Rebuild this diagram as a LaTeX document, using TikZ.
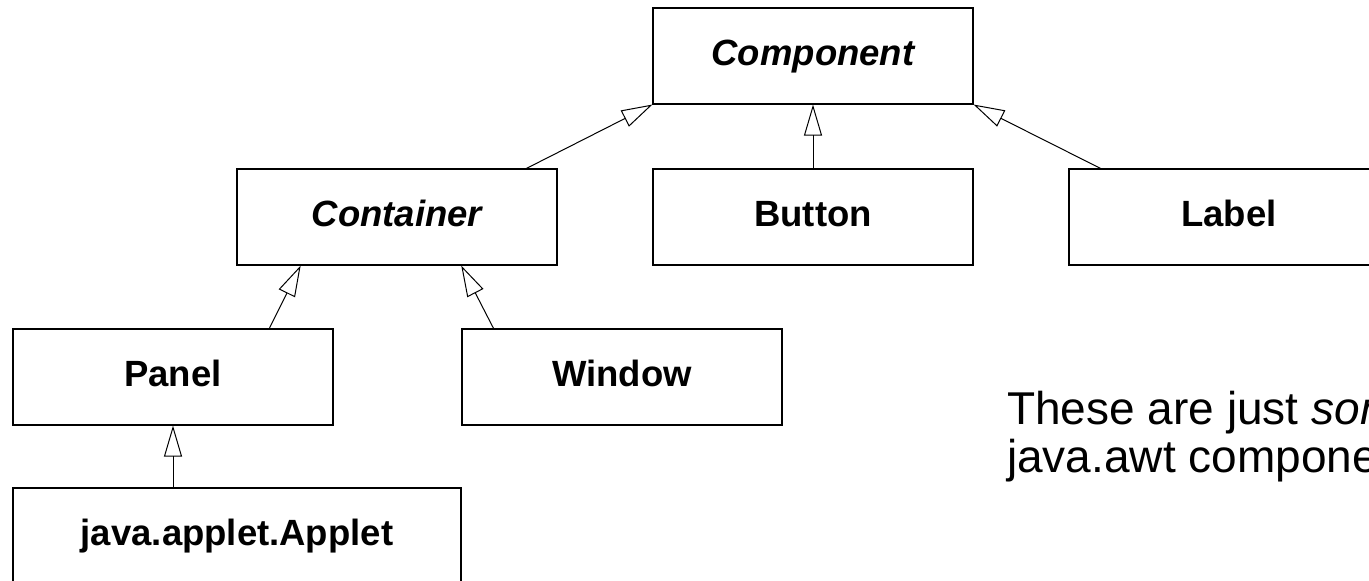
\documentclass[tikz,border=0pt]{standalone}
\usepackage{fontspec}
\setmainfont{Liberation Sans}
\usetikzlibrary{arrows.meta,calc}
\tikzset{
  cls/.style={draw=black, line width=1.1pt, rectangle, minimum width=320pt, minimum height=96pt,
    inner sep=0pt, text height=26pt, text depth=7pt,
    font=\fontsize{36.5}{44}\selectfont\bfseries},
  abstractcls/.style={cls, font=\fontsize{36.5}{44}\selectfont\bfseries\itshape},
  inherit/.style={line width=1pt, -{Triangle[open, length=31pt, width=18pt, line width=1pt]}},
  note/.style={anchor=base west, inner sep=0pt, font=\fontsize{46}{48}\selectfont}
}
\begin{document}
\begin{tikzpicture}[x=1pt, y=-1pt]
\useasboundingbox (0,0) rectangle (1369,581);
\clip (0,0) rectangle (1369,581);
\node[abstractcls] (comp) at (813,56) {Component};
\node[abstractcls] (cont) at (397,217) {Container};
\node[cls] (button) at (813,217) {Button};
\node[cls] (label) at (1229,217) {Label};
\node[cls] (panel) at (173,377) {Panel};
\node[cls] (window) at (622,377) {Window};
\node[cls, minimum width=448pt] (applet) at (237,536) {java.applet.Applet};

\draw[inherit] ($(cont.north west)!0.903!(cont.north east)$) -- (comp.south west);
\draw[inherit] (button.north) -- (comp.south);
\draw[inherit] ($(label.north west)!0.1!(label.north east)$) -- (comp.south east);
\draw[inherit] ($(panel.north west)!0.8!(panel.north east)$) -- ($(cont.south west)!0.2!(cont.south east)$);
\draw[inherit] ($(window.north west)!0.1!(window.north east)$) -- ($(cont.south west)!0.7!(cont.south east)$);
\draw[inherit] (panel.south |- applet.north) -- (panel.south);

\node[note] (t1) at (1007,424) {These are just \textit{some}};
\node[note] (t2) at (1007,472) {java.awt components};
\end{tikzpicture}
\end{document}
